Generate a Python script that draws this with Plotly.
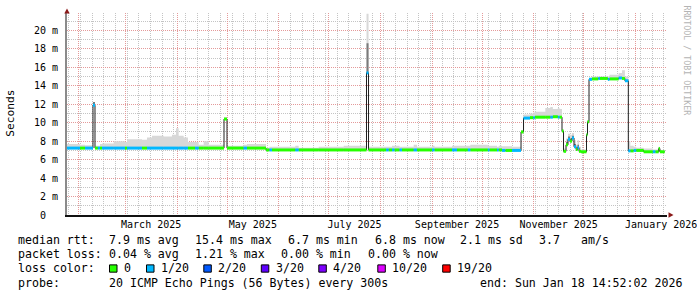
import plotly.graph_objects as go

# ---------------- data ----------------
x_start = "2025-01-25 00:00"
x_end = "2026-01-20 00:00"

dates = [
    "2025-01-25 00:00", "2025-02-01 19:00", "2025-02-04 19:00", "2025-02-09 14:00", "2025-02-10 19:00",
    "2025-02-12 12:00", "2025-02-13 19:00", "2025-02-15 00:00", "2025-02-22 00:00", "2025-02-28 19:00",
    "2025-03-02 00:00", "2025-03-11 00:00", "2025-03-14 00:00", "2025-03-17 00:00", "2025-03-24 00:00",
    "2025-03-29 00:00", "2025-03-31 10:00", "2025-04-02 00:00", "2025-04-05 00:00", "2025-04-07 14:00",
    "2025-04-11 19:00", "2025-04-14 00:00", "2025-04-17 00:00", "2025-04-20 00:00", "2025-04-29 05:00",
    "2025-05-01 00:00", "2025-05-11 00:00", "2025-05-13 00:00", "2025-05-24 10:00", "2025-05-26 12:00",
    "2025-05-28 00:00", "2025-06-11 00:00", "2025-06-13 00:00", "2025-06-25 00:00", "2025-07-10 00:00",
    "2025-07-23 17:00", "2025-07-24 22:00", "2025-08-04 12:00", "2025-08-06 00:00", "2025-08-08 00:00",
    "2025-08-09 12:00", "2025-08-12 12:00", "2025-08-14 00:00", "2025-08-21 00:00", "2025-08-23 00:00",
    "2025-09-01 00:00", "2025-09-02 12:00", "2025-09-13 00:00", "2025-09-16 00:00", "2025-09-22 12:00",
    "2025-09-24 00:00", "2025-10-04 12:00", "2025-10-05 12:00", "2025-10-10 00:00", "2025-10-11 00:00",
    "2025-10-13 00:00", "2025-10-15 00:00", "2025-10-19 00:00", "2025-10-24 10:00", "2025-10-25 22:00",
    "2025-10-29 19:00", "2025-10-31 18:00", "2025-11-01 18:00", "2025-11-08 00:00", "2025-11-11 00:00",
    "2025-11-12 12:00", "2025-11-15 12:00", "2025-11-16 12:00", "2025-11-18 00:00", "2025-11-18 22:00",
    "2025-11-20 10:00", "2025-11-21 14:00", "2025-11-22 19:00", "2025-11-24 00:00", "2025-11-25 05:00",
    "2025-11-26 10:00", "2025-11-27 07:00", "2025-11-28 05:00", "2025-11-29 10:00", "2025-12-02 17:00",
    "2025-12-03 07:00", "2025-12-04 05:00", "2025-12-06 00:00", "2025-12-09 18:00", "2025-12-10 18:00",
    "2025-12-15 12:00", "2025-12-16 12:00", "2025-12-22 00:00", "2025-12-24 00:00", "2025-12-25 18:00",
    "2025-12-27 19:00", "2025-12-29 00:00", "2025-12-31 00:00", "2026-01-01 12:00", "2026-01-06 00:00",
    "2026-01-11 12:00", "2026-01-13 00:00", "2026-01-15 00:00", "2026-01-15 18:00", "2026-01-18 14:52",
]

median_ms = [
    7.25, 7.25, 7.25, 11.90, 7.25, 7.25, 7.25, 7.25, 7.25, 7.25,
    7.25, 7.25, 7.25, 7.25, 7.25, 7.25, 7.25, 7.25, 7.25, 7.25,
    7.25, 7.25, 7.25, 7.25, 10.40, 7.25, 7.25, 7.25, 7.05, 7.05,
    7.05, 7.05, 7.05, 7.05, 7.05, 15.40, 7.05, 7.05, 7.05, 7.05,
    7.05, 7.05, 7.05, 7.05, 7.05, 7.05, 7.05, 7.05, 7.05, 7.05,
    7.05, 7.05, 7.05, 7.05, 7.05, 7.00, 7.00, 7.00, 9.00, 10.50,
    10.55, 10.55, 10.60, 10.60, 10.60, 10.65, 10.60, 10.60, 9.10, 6.90,
    7.60, 8.20, 8.00, 8.35, 7.40, 7.10, 7.30, 6.90, 6.85, 8.70,
    10.10, 14.70, 14.75, 14.80, 14.80, 14.70, 14.75, 14.85, 14.80, 14.55,
    6.95, 6.95, 7.00, 7.00, 6.85, 6.85, 6.85, 7.20, 6.85, 6.85,
]

# index into loss_labels / loss_colors (0 -> no loss, 1 -> 1/20)
loss_idx = [
    1, 0, 1, 1, 0, 1, 0, 1, 1, 0,
    1, 0, 1, 1, 1, 1, 1, 1, 1, 0,
    1, 0, 0, 0, 0, 0, 1, 0, 0, 1,
    0, 1, 0, 0, 0, 1, 0, 1, 0, 1,
    0, 1, 0, 1, 0, 1, 0, 1, 0, 1,
    0, 1, 0, 1, 0, 1, 0, 1, 0, 1,
    0, 1, 0, 0, 1, 0, 1, 0, 0, 0,
    0, 1, 0, 1, 1, 0, 1, 0, 0, 0,
    0, 1, 0, 1, 0, 1, 0, 1, 0, 1,
    1, 0, 1, 0, 0, 1, 0, 0, 0, 0,
]

smoke_top = [
    7.70, 7.60, 7.55, 12.25, 7.50, 7.50, 7.70, 7.75, 8.00, 7.90,
    8.20, 8.15, 8.40, 8.60, 8.50, 8.70, 9.40, 8.60, 8.40, 7.90,
    7.90, 7.60, 8.00, 7.60, 10.60, 7.50, 7.60, 7.70, 7.30, 7.40,
    7.40, 7.50, 7.30, 7.40, 7.50, 21.80, 7.40, 7.40, 7.40, 7.50,
    7.50, 7.40, 7.40, 7.60, 7.40, 7.50, 7.40, 7.50, 7.50, 7.50,
    7.60, 7.50, 7.50, 7.40, 7.50, 7.45, 7.45, 7.40, 9.20, 10.90,
    11.00, 11.10, 11.20, 11.60, 11.70, 11.50, 11.60, 11.50, 9.30, 7.20,
    8.30, 8.80, 8.70, 8.90, 8.10, 7.60, 8.10, 7.40, 7.10, 8.90,
    10.30, 14.90, 15.00, 15.00, 15.00, 15.00, 15.20, 15.40, 15.70, 15.00,
    8.00, 7.50, 7.40, 7.30, 7.20, 7.10, 7.10, 7.40, 7.00, 7.00,
]

# darker part of the smoke (None -> no dark smoke)
smoke_dark = [
    None, None, None, 12.25, None, None, None, None, None, None,
    None, None, None, None, None, None, None, None, None, None,
    None, None, None, None, None, None, None, None, None, None,
    None, None, None, None, None, 18.60, None, None, None, None,
    None, None, None, None, None, None, None, None, None, None,
    None, None, None, None, None, None, None, None, None, None,
    None, None, None, None, None, None, None, None, None, None,
    7.90, 8.50, 8.30, 8.60, 7.70, None, 7.60, None, None, None,
    None, None, None, None, None, None, None, None, None, None,
    None, None, None, None, None, None, None, None, None, None,
]

loss_labels = ["0", "1/20", "2/20", "3/20", "4/20", "10/20", "19/20"]
loss_colors = ["#26ff00", "#00b8ff", "#0059ff", "#5e00ff", "#7e00ff", "#dd00ff", "#ff0000"]

y_tick_vals = [0, 2, 4, 6, 8, 10, 12, 14, 16, 18, 20]
y_tick_text = ["0\u00a0\u00a0", "2 m", "4 m", "6 m", "8 m", "10 m", "12 m", "14 m", "16 m", "18 m", "20 m"]

month_tick_vals = ["2025-03-16 12:00", "2025-05-16 12:00", "2025-07-16 12:00",
                   "2025-09-16 00:00", "2025-11-16 00:00", "2026-01-16 12:00"]
month_tick_text = ["March 2025", "May 2025", "July 2025", "September 2025", "November 2025", "January 2026"]

legend_rows = [
    [("median rtt:", 16), ("7.9 ms avg", 107.3), ("15.4 ms max", 193.3), ("6.7 ms min", 286),
     ("6.8 ms now", 373.3), ("2.1 ms sd", 458.3), ("3.7", 536.7), ("am/s", 579.3)],
    [("packet loss:", 16), ("0.04 % avg", 107.3), ("1.21 % max", 193.3), ("0.00 % min", 279.3),
     ("0.00 % now", 366.0)],
    [("loss color:", 16)],
    [("probe:", 16), ("20 ICMP Echo Pings (56 Bytes) every 300s", 107.3),
     ("end: Sun Jan 18 14:52:02 2026", 478.3)],
]
legend_row_y = [240.7, 255.0, 269.0, 283.3]
loss_box_x = [109.5, 146.5, 203.8, 261.3, 318.8, 377.8, 442.7]

# ---------------- layout geometry ----------------
W, H = 697, 297
PL, PR, PT, PB = 67, 667, 13, 215.5


def xp(px):
    return (px - PL) / (PR - PL)


def yp(py):
    return (PB - py) / (PB - PT)


MONO = "DejaVu Sans Mono"

fig = go.Figure()

# light smoke
fig.add_trace(go.Scatter(x=dates, y=median_ms, mode="lines", line=dict(width=0, shape="hv"),
                         hoverinfo="skip", showlegend=False))
fig.add_trace(go.Scatter(x=dates, y=smoke_top, mode="lines", line=dict(width=0, shape="hv"),
                         fill="tonexty", fillcolor="#d8d8d8", hoverinfo="skip", showlegend=False))
# dark smoke
dark_vals = [d if d is not None else m for d, m in zip(smoke_dark, median_ms)]
fig.add_trace(go.Scatter(x=dates, y=median_ms, mode="lines", line=dict(width=0, shape="hv"),
                         hoverinfo="skip", showlegend=False))
fig.add_trace(go.Scatter(x=dates, y=dark_vals, mode="lines", line=dict(width=0, shape="hv"),
                         fill="tonexty", fillcolor="#7a7a7a", hoverinfo="skip", showlegend=False))

# thin dark median line
fig.add_trace(go.Scatter(x=dates, y=median_ms, mode="lines", line=dict(width=1, color="#202020", shape="hv"),
                         hoverinfo="skip", showlegend=False))

# loss-coloured median segments
for k, col in enumerate(loss_colors):
    xs, ys = [], []
    for i in range(len(dates) - 1):
        if loss_idx[i] == k:
            xs += [dates[i], dates[i + 1], None]
            ys += [median_ms[i], median_ms[i], None]
    if xs:
        fig.add_trace(go.Scatter(x=xs, y=ys, mode="lines", line=dict(width=3, color=col),
                                 hoverinfo="skip", showlegend=False))

# dummy trace for the label axis
fig.add_trace(go.Scatter(x=[x_start, x_end], y=[0, 0], xaxis="x2", mode="lines",
                         line=dict(width=0), opacity=0, hoverinfo="skip", showlegend=False))

RED_GRID = "#e49a9a"
GRAY_GRID = "#c4c4c4"

fig.update_layout(
    width=W, height=H,
    margin=dict(l=PL, r=W - PR, t=PT, b=H - PB, autoexpand=False),
    paper_bgcolor="white", plot_bgcolor="white",
    showlegend=False,
    xaxis=dict(
        type="date", range=[x_start, x_end], dtick="M1", tick0="2025-01-01",
        showgrid=True, gridcolor=RED_GRID, griddash="1px,1px", gridwidth=1,
        minor=dict(dtick=7 * 86400000, tick0="2025-01-26", showgrid=True,
                   gridcolor=GRAY_GRID, griddash="1px,1px", gridwidth=1),
        showticklabels=False, ticks="", zeroline=False, automargin=False,
        showline=True, linecolor="#111111", linewidth=2, fixedrange=True,
    ),
    xaxis2=dict(
        type="date", range=[x_start, x_end], overlaying="x", side="bottom", anchor="y",
        tickmode="array", tickvals=month_tick_vals, ticktext=month_tick_text,
        tickfont=dict(family=MONO, size=10, color="#000000"),
        showgrid=False, showline=False, ticks="", zeroline=False, fixedrange=True,
        ticklabelstandoff=2, ticklabeloverflow="allow", automargin=False,
    ),
    yaxis=dict(
        range=[0, (PB - PT) / 9.25], tickmode="array", tickvals=y_tick_vals, ticktext=y_tick_text,
        tickfont=dict(family=MONO, size=10, color="#000000"),
        showgrid=True, gridcolor=RED_GRID, griddash="1px,1px", gridwidth=1,
        minor=dict(dtick=1, showgrid=True, gridcolor=GRAY_GRID, griddash="1px,1px", gridwidth=1),
        ticks="", zeroline=False, showline=True, linecolor="#8a8a8a", linewidth=2,
        fixedrange=True, ticklabelstandoff=5, automargin=False,
    ),
)

annotations = []
shapes = []

# y title
annotations.append(dict(text="Seconds", x=xp(10.5), y=yp(113.5), xref="paper", yref="paper",
                        showarrow=False, textangle=-90, xanchor="center", yanchor="middle",
                        font=dict(family=MONO, size=11.2, color="#000000")))
# watermark
annotations.append(dict(text="RRDTOOL / TOBI OETIKER", x=xp(687.5), y=yp(60), xref="paper", yref="paper",
                        showarrow=False, textangle=90, xanchor="center", yanchor="middle",
                        font=dict(family=MONO, size=8.3, color="#b4b4b4")))

for row, ty in zip(legend_rows, legend_row_y):
    for txt, tx in row:
        annotations.append(dict(text=txt, x=xp(tx), y=yp(ty), xref="paper", yref="paper",
                                showarrow=False, xanchor="left", yanchor="middle",
                                font=dict(family=MONO, size=11.6, color="#000000")))

for lbl, col, bx in zip(loss_labels, loss_colors, loss_box_x):
    shapes.append(dict(type="rect", xref="paper", yref="paper",
                       x0=xp(bx), x1=xp(bx + 7.5), y0=yp(272.8), y1=yp(265.5),
                       fillcolor=col, line=dict(color="#000000", width=1)))
    annotations.append(dict(text=lbl, x=xp(bx + 12.3), y=yp(legend_row_y[2]), xref="paper", yref="paper",
                            showarrow=False, xanchor="left", yanchor="middle",
                            font=dict(family=MONO, size=11.6, color="#000000")))

# axis arrows
ARROW = "#8b1a1a"
shapes.append(dict(type="path", xref="paper", yref="paper",
                   path=f"M {xp(64.3)},{yp(13.5)} L {xp(67)},{yp(8.5)} L {xp(69.7)},{yp(13.5)} Z",
                   fillcolor=ARROW, line=dict(width=0)))
shapes.append(dict(type="path", xref="paper", yref="paper",
                   path=f"M {xp(668.5)},{yp(212.8)} L {xp(673.5)},{yp(215.5)} L {xp(668.5)},{yp(218.2)} Z",
                   fillcolor=ARROW, line=dict(width=0)))

fig.update_layout(annotations=annotations, shapes=shapes)

fig.write_html("out.html", config={"displayModeBar": False, "staticPlot": True})
